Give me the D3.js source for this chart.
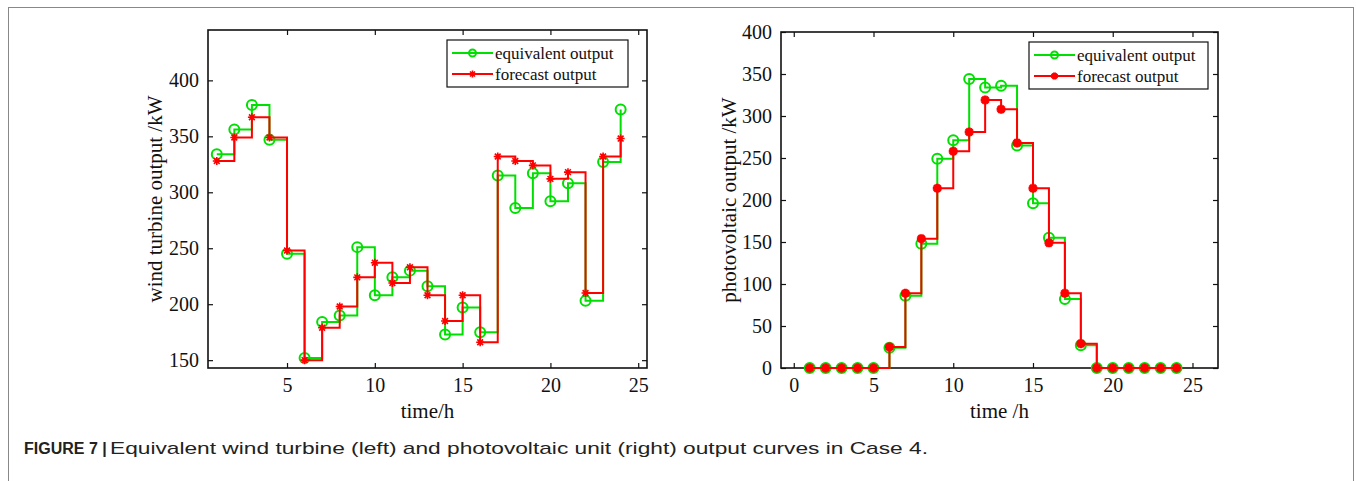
<!DOCTYPE html>
<html>
<head>
<meta charset="utf-8">
<script src="https://cdn.jsdelivr.net/npm/d3@7"></script>
<style>
  body { margin: 0; background: #fff; }
  svg text { font-family: "Liberation Serif", "Times New Roman", serif; fill: #111; }
  svg text.caption { font-family: "Liberation Sans", Arial, sans-serif; fill: #222; }
</style>
</head>
<body>
<div id="main"></div>
<script>
// hours 1..24
const hours = d3.range(1, 25);

// wind turbine output (kW)
const windEquivalent = [334, 356, 378, 347, 245, 152, 184, 190, 251, 208, 224, 230,
                        216, 173, 197, 175, 315, 286, 317, 292, 308, 203, 327, 374];
const windForecast   = [328, 349, 367, 349, 248, 150, 179, 198, 224, 237, 219, 233,
                        208, 185, 208, 166, 332, 328, 324, 312, 318, 210, 332, 348];

// photovoltaic output (kW)
const pvEquivalent = [0, 0, 0, 0, 0, 24, 86, 148, 249, 271, 344, 334,
                      336, 265, 196, 155, 82, 27, 0, 0, 0, 0, 0, 0];
const pvForecast   = [0, 0, 0, 0, 0, 25, 89, 154, 214, 258, 281, 319,
                      308, 268, 214, 149, 89, 29, 0, 0, 0, 0, 0, 0];

// tick labels
const windXTicks = [5, 10, 15, 20, 25];
const windYTicks = [150, 200, 250, 300, 350, 400];
const pvXTicks = [0, 5, 10, 15, 20, 25];
const pvYTicks = [0, 50, 100, 150, 200, 250, 300, 350, 400];

const seriesNames = ["equivalent output", "forecast output"];
const green = "#00e000";
const red = "#ff0000";

const width = 1356, height = 481;

const svg = d3.select('#main').append('svg')
  .attr('width', width).attr('height', height);

// outer frame of the figure
svg.append('rect')
  .attr('x', 8.5).attr('y', 7.5)
  .attr('width', 1345).attr('height', 490)
  .attr('fill', 'none').attr('stroke', '#888').attr('stroke-width', 1);

// asterisk marker (plus + times)
function asterisk(r) {
  const d = r * 0.72;
  return `M${-r},0L${r},0M0,${-r}L0,${r}M${-d},${-d}L${d},${d}M${-d},${d}L${d},${-d}`;
}

function drawPanel(opt) {
  const x = d3.scaleLinear().domain(opt.xDomain).range([opt.left, opt.right]);
  const y = d3.scaleLinear().domain(opt.yDomain).range([opt.bottom, opt.top]);
  const g = svg.append('g');

  // axes with inward ticks on all four sides
  g.append('g').attr('transform', `translate(0,${opt.bottom})`)
    .call(d3.axisBottom(x).tickValues(opt.xTicks).tickSize(-5).tickPadding(10))
    .call(a => a.selectAll('text').style('font-size', '20px'));
  g.append('g').attr('transform', `translate(0,${opt.top})`)
    .call(d3.axisTop(x).tickValues(opt.xTicks).tickSize(-5).tickFormat(''));
  g.append('g').attr('transform', `translate(${opt.left},0)`)
    .call(d3.axisLeft(y).tickValues(opt.yTicks).tickSize(-5).tickPadding(9))
    .call(a => a.selectAll('text').style('font-size', '20px'));
  g.append('g').attr('transform', `translate(${opt.right},0)`)
    .call(d3.axisRight(y).tickValues(opt.yTicks).tickSize(-5).tickFormat(''));
  g.selectAll('.domain').remove();
  g.selectAll('.tick line').attr('stroke', '#111').attr('stroke-width', 1.2);

  g.append('rect')
    .attr('x', opt.left).attr('y', opt.top)
    .attr('width', opt.right - opt.left).attr('height', opt.bottom - opt.top)
    .attr('fill', 'none').attr('stroke', '#111').attr('stroke-width', 1.6);

  const line = d3.line().curve(d3.curveStepAfter)
    .x((d, i) => x(hours[i])).y(d => y(d));

  // equivalent output
  g.append('path').datum(opt.equivalent)
    .attr('d', line).attr('fill', 'none')
    .attr('stroke', green).attr('stroke-width', 2);
  g.append('g').selectAll('circle').data(opt.equivalent).enter().append('circle')
    .attr('cx', (d, i) => x(hours[i])).attr('cy', d => y(d))
    .attr('r', 5).attr('fill', 'none')
    .attr('stroke', green).attr('stroke-width', 2);

  // forecast output
  g.append('path').datum(opt.forecast)
    .attr('d', line).attr('fill', 'none')
    .attr('stroke', red).attr('stroke-width', 2);
  g.append('g').selectAll('path').data(opt.forecast).enter().append('path')
    .attr('transform', (d, i) => `translate(${x(hours[i])},${y(d)})`)
    .attr('d', asterisk(opt.starSize)).attr('fill', 'none')
    .attr('stroke', red).attr('stroke-width', opt.starWidth);

  // axis labels
  g.append('text')
    .attr('x', (opt.left + opt.right) / 2).attr('y', opt.bottom + 50)
    .attr('text-anchor', 'middle').style('font-size', '21px')
    .text(opt.xLabel);
  g.append('text')
    .attr('transform', `translate(${opt.yLabelX},${(opt.top + opt.bottom) / 2}) rotate(-90)`)
    .attr('text-anchor', 'middle').style('font-size', '21px')
    .text(opt.yLabel);

  // legend
  const lg = g.append('g').attr('transform', `translate(${opt.legend[0]},${opt.legend[1]})`);
  lg.append('rect').attr('x', 0).attr('y', 0)
    .attr('width', opt.legend[2]).attr('height', 47)
    .attr('fill', '#fff').attr('stroke', '#111').attr('stroke-width', 1.2);
  [green, red].forEach((c, i) => {
    const yy = 13 + i * 21;
    lg.append('line').attr('x1', 5).attr('x2', 46).attr('y1', yy).attr('y2', yy)
      .attr('stroke', c).attr('stroke-width', 2);
    if (i === 0) {
      lg.append('circle').attr('cx', 25.5).attr('cy', yy).attr('r', 3.5)
        .attr('fill', 'none').attr('stroke', c).attr('stroke-width', 2);
    } else {
      lg.append('path').attr('transform', `translate(25.5,${yy})`)
        .attr('d', asterisk(3.5)).attr('fill', 'none')
        .attr('stroke', c).attr('stroke-width', opt.starWidth);
    }
    lg.append('text').attr('x', 48).attr('y', yy + 6)
      .style('font-size', '17px').text(seriesNames[i]);
  });
}

drawPanel({
  left: 208, right: 647, top: 30, bottom: 368,
  xDomain: [0.5, 25.5], yDomain: [143, 445],
  xTicks: windXTicks, yTicks: windYTicks,
  equivalent: windEquivalent, forecast: windForecast,
  xLabel: 'time/h', yLabel: 'wind turbine output /kW', yLabelX: 162,
  legend: [447, 40, 181], starSize: 4, starWidth: 1.6
});

drawPanel({
  left: 781, right: 1218, top: 32, bottom: 368,
  xDomain: [-0.8, 26.6], yDomain: [0, 400],
  xTicks: pvXTicks, yTicks: pvYTicks,
  equivalent: pvEquivalent, forecast: pvForecast,
  xLabel: 'time /h', yLabel: 'photovoltaic output /kW', yLabelX: 736,
  legend: [1029, 42, 179], starSize: 4.5, starWidth: 3
});

// caption
svg.append('text').attr('class', 'caption')
  .attr('x', 24).attr('y', 454).style('font-size', '16px')
  .attr('font-weight', 'bold').text('FIGURE 7 |');
svg.append('text').attr('class', 'caption')
  .attr('x', 110).attr('y', 454).style('font-size', '17px')
  .attr('textLength', 818).attr('lengthAdjust', 'spacingAndGlyphs')
  .text('Equivalent wind turbine (left) and photovoltaic unit (right) output curves in Case 4.');
</script>
</body>
</html>
